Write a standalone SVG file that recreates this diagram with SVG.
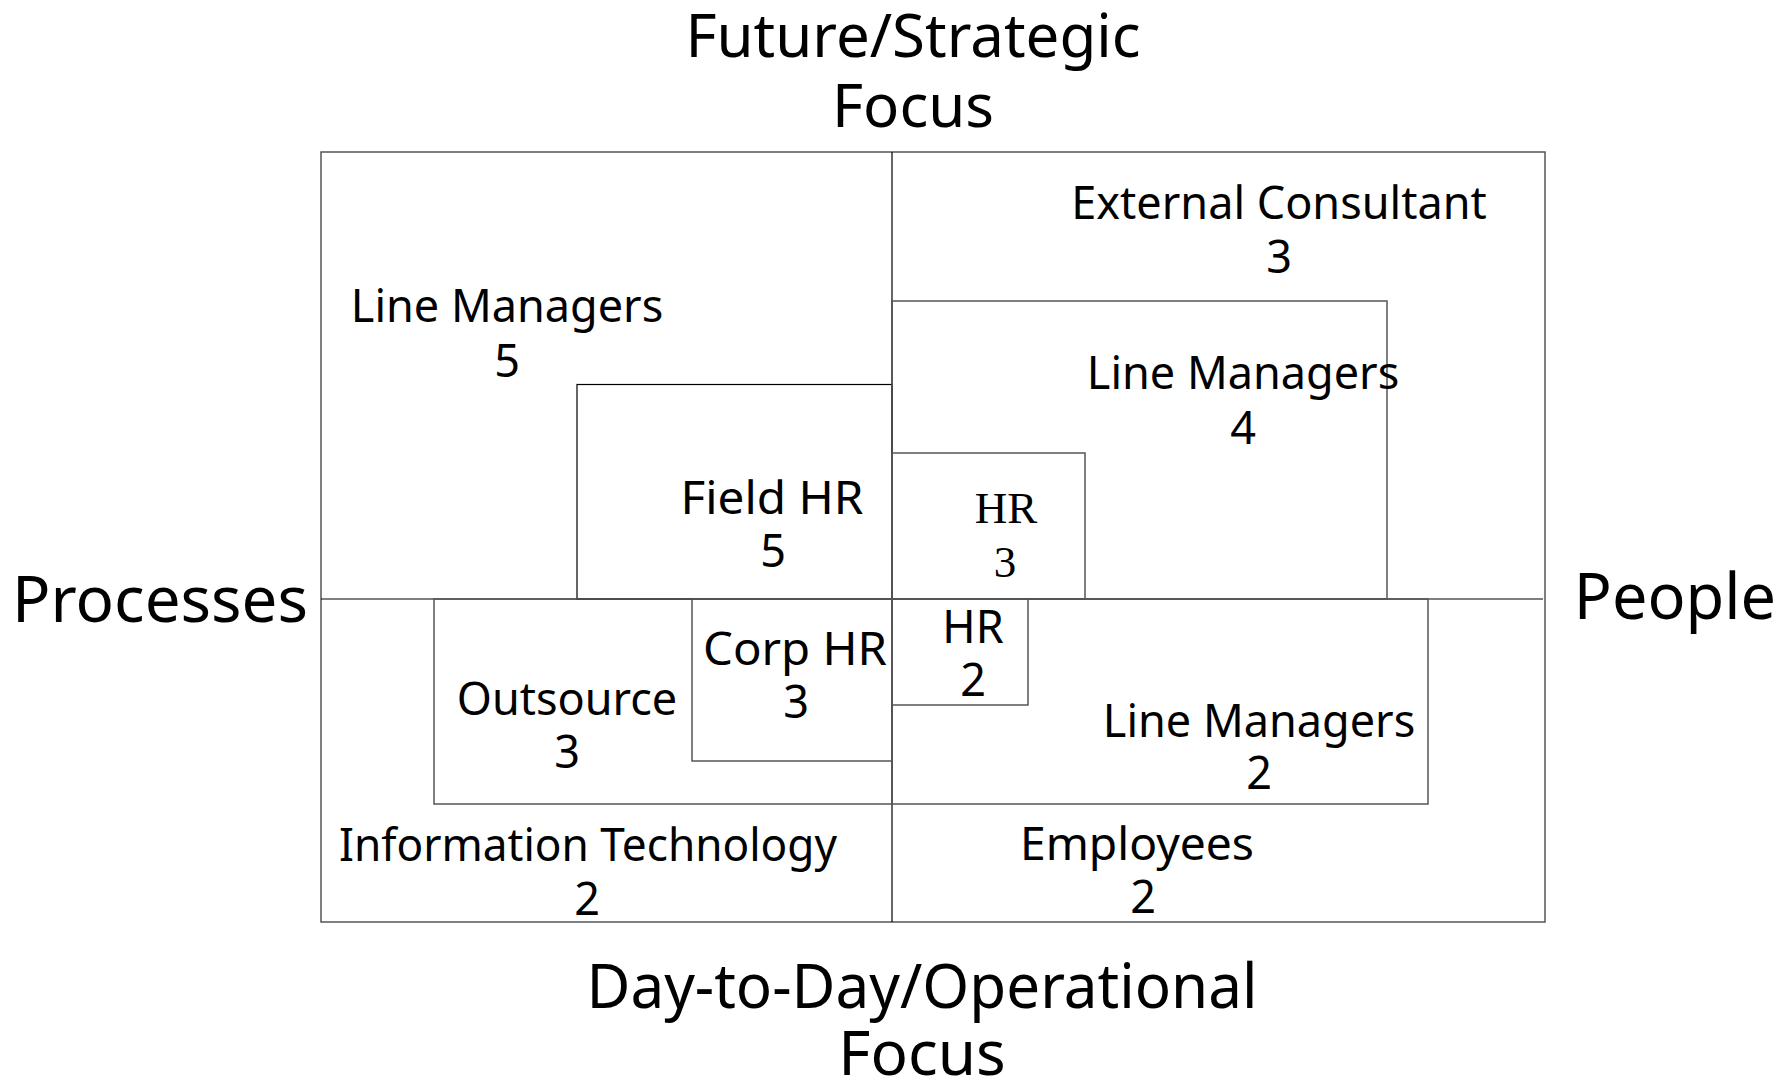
<svg xmlns="http://www.w3.org/2000/svg" width="1791" height="1083" viewBox="0 0 1791 1083">
  <style>
    .box { fill: none; stroke: #000; stroke-width: 1.2; }
    .soft { fill: none; stroke: #555; stroke-width: 1.5; }
    .lbl { font-family: "Noto Sans", "Open Sans", "DejaVu Sans", sans-serif; font-size: 45px; fill: #000; text-anchor: middle; }
    .serif { font-family: "Liberation Serif", "Times New Roman", serif; font-size: 45px; fill: #000; text-anchor: middle; }
    .axis { font-family: "Noto Sans", "Open Sans", "DejaVu Sans", sans-serif; fill: #000; text-anchor: middle; }
    .top { font-size: 60px; }
    .side { font-size: 63px; }
    .bottom { font-size: 62px; }
  </style>
  <rect width="1791" height="1083" fill="#fff"/>

  <!-- axis captions -->
  <g id="axis-top">
    <text class="axis top" x="913" y="57">Future/Strategic</text>
    <text class="axis top" x="913" y="127">Focus</text>
  </g>
  <g id="axis-left">
    <text class="axis side" x="160" y="622" textLength="296" lengthAdjust="spacingAndGlyphs">Processes</text>
  </g>
  <g id="axis-right">
    <text class="axis side" x="1675" y="619">People</text>
  </g>
  <g id="axis-bottom">
    <text class="axis bottom" x="922" y="1008" textLength="671" lengthAdjust="spacingAndGlyphs">Day-to-Day/Operational</text>
    <text class="axis bottom" x="922" y="1075">Focus</text>
  </g>

  <!-- quadrant frames -->
  <g id="quadrants">
    <rect class="soft" x="321" y="152" width="1224" height="770"/>
    <line class="box" x1="892" y1="152" x2="892" y2="922"/>
    <line class="box" x1="321" y1="599" x2="1543" y2="599"/>
  </g>

  <!-- upper left: processes, strategic -->
  <g id="line-managers-5">
    <text class="lbl" x="507" y="322">Line Managers</text>
    <text class="lbl" x="507" y="377">5</text>
  </g>
  <g id="field-hr-5">
    <rect class="box" x="577" y="384.5" width="315" height="214.5"/>
    <text class="lbl" x="772" y="514" textLength="183" lengthAdjust="spacingAndGlyphs">Field HR</text>
    <text class="lbl" x="773" y="567">5</text>
  </g>

  <!-- upper right: people, strategic -->
  <g id="external-consultant-3">
    <text class="lbl" x="1279" y="219">External Consultant</text>
    <text class="lbl" x="1279" y="273">3</text>
  </g>
  <g id="line-managers-4">
    <rect class="soft" x="892" y="301" width="495" height="298"/>
    <text class="lbl" x="1243" y="389">Line Managers</text>
    <text class="lbl" x="1243" y="444">4</text>
  </g>
  <g id="hr-3">
    <rect class="soft" x="892" y="453" width="193" height="146"/>
    <text class="serif" x="1006" y="523">HR</text>
    <text class="serif" x="1005" y="577">3</text>
  </g>

  <!-- lower left: processes, operational -->
  <g id="information-technology-2">
    <text class="lbl" x="588" y="861" textLength="498" lengthAdjust="spacingAndGlyphs">Information Technology</text>
    <text class="lbl" x="587" y="915">2</text>
  </g>
  <g id="outsource-3">
    <rect class="soft" x="434" y="599" width="458" height="205"/>
    <text class="lbl" x="567" y="715">Outsource</text>
    <text class="lbl" x="567" y="768">3</text>
  </g>
  <g id="corp-hr-3">
    <rect class="soft" x="692" y="599" width="200" height="162"/>
    <text class="lbl" x="795" y="665" textLength="184" lengthAdjust="spacingAndGlyphs">Corp HR</text>
    <text class="lbl" x="796" y="718">3</text>
  </g>

  <!-- lower right: people, operational -->
  <g id="employees-2">
    <text class="lbl" x="1137" y="860" textLength="234" lengthAdjust="spacingAndGlyphs">Employees</text>
    <text class="lbl" x="1143" y="913">2</text>
  </g>
  <g id="line-managers-2">
    <rect class="soft" x="892" y="599" width="536" height="205"/>
    <text class="lbl" x="1259" y="737">Line Managers</text>
    <text class="lbl" x="1259" y="789">2</text>
  </g>
  <g id="hr-2">
    <rect class="soft" x="892" y="599" width="136" height="106"/>
    <text class="lbl" x="973" y="643">HR</text>
    <text class="lbl" x="973" y="696">2</text>
  </g>
</svg>
